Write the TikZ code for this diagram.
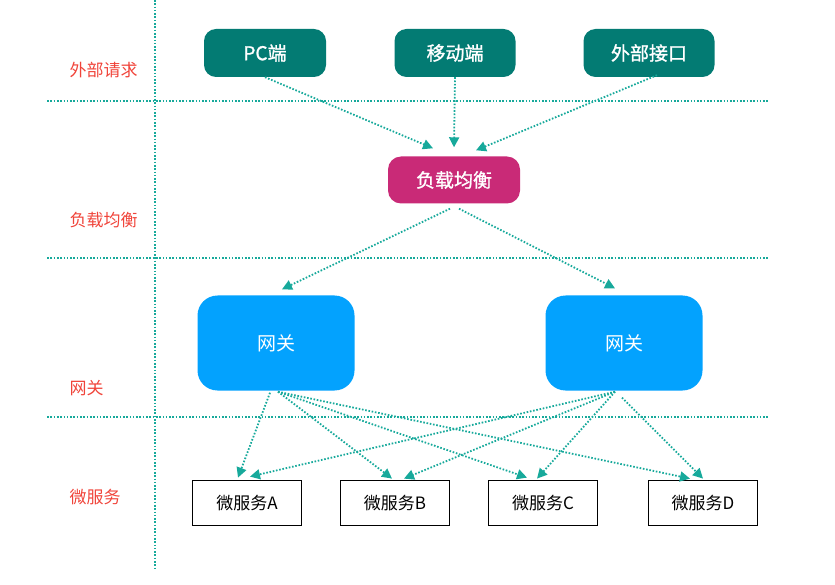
\documentclass[tikz,border=0pt]{standalone}
\usepackage{fontspec}
\newfontfamily\cjk{Noto Sans CJK SC}
\newfontfamily\cjkbox[FakeBold=1.2]{Noto Sans CJK SC}
\usetikzlibrary{arrows.meta}
\definecolor{clientcol}{HTML}{037B73}
\definecolor{lbcol}{HTML}{C92A77}
\definecolor{gwcol}{HTML}{03A2FE}
\definecolor{dotcol}{HTML}{17A99B}
\definecolor{layercol}{HTML}{F0443A}

\begin{document}
\begin{tikzpicture}[x=1pt,y=-1pt,
	client/.style={fill=clientcol, rounded corners=12pt, minimum height=48pt, text=white, font=\cjkbox\fontsize{19}{19}\selectfont},
	balancer/.style={fill=lbcol, rounded corners=13pt, minimum width=132pt, minimum height=47pt, text=white, font=\cjkbox\fontsize{19}{19}\selectfont},
	gateway/.style={fill=gwcol, rounded corners=20pt, minimum width=157pt, minimum height=95pt, text=white, font=\cjk\fontsize{19}{19}\selectfont},
	service/.style={draw=black, line width=1.8pt, fill=white, minimum width=109pt, minimum height=45pt, font=\cjk\fontsize{17}{17}\selectfont},
	layer/.style={anchor=west, text=layercol, font=\cjk\fontsize{17}{17}\selectfont},
	divider/.style={dotcol, line width=1.8pt, dash pattern=on 1.6pt off 1.7pt},
	flow/.style={dotcol, line width=1.8pt, dash pattern=on 1.6pt off 1.7pt, -{Triangle[length=10pt,width=10pt]}}]
		\useasboundingbox (0,0) rectangle (835,585);
		\draw [divider] (155,0) -- (155,568);
		\draw [divider] (47,101) -- (768,101);
		\draw [divider] (47,258) -- (768,258);
		\draw [divider] (47,417) -- (768,417);
		\node [layer] (lext) at (66,70) {外部请求};
		\node [layer] (llb) at (66,220) {负载均衡};
		\node [layer] (lgw) at (66,388) {网关};
		\node [layer] (lms) at (66,497) {微服务};
		\node [client, minimum width=122pt] (pc) at (265,53) {PC端};
		\node [client, minimum width=121pt] (mobile) at (455,53) {移动端};
		\node [client, minimum width=131pt] (ext) at (649,53) {外部接口};
		\node [balancer] (lb) at (454,180) {负载均衡};
		\node [gateway] (gwl) at (276,343) {网关};
		\node [gateway] (gwr) at (624,343) {网关};
		\node [service] (msa) at (247,503) {微服务A};
		\node [service] (msb) at (395,503) {微服务B};
		\node [service] (msc) at (543,503) {微服务C};
		\node [service] (msd) at (703,503) {微服务D};
		\draw [flow] (pc.south) -- ([xshift=-21pt,yshift=8pt]lb.north);
		\draw [flow] (mobile.south) -- ([yshift=9pt]lb.north);
		\draw [flow] ([xshift=8pt,yshift=2pt]ext.south) -- ([xshift=22pt,yshift=6pt]lb.north);
		\draw [flow] ([xshift=-4pt,yshift=-5pt]lb.south) -- ([xshift=6pt,yshift=6pt]gwl.north);
		\draw [flow] ([xshift=5pt,yshift=-5pt]lb.south) -- ([xshift=-9pt,yshift=7pt]gwr.north);
		\draw [flow] ([xshift=-6pt,yshift=-2pt]gwl.south) -- ([xshift=-9pt,yshift=2pt]msa.north);
		\draw [flow] ([xshift=2pt,yshift=-1pt]gwl.south) -- ([xshift=-3pt,yshift=1pt]msb.north);
		\draw [flow] ([xshift=2pt,yshift=-1pt]gwl.south) -- ([xshift=-16pt,yshift=2pt]msc.north);
		\draw [flow] ([xshift=2pt,yshift=-1pt]gwl.south) -- ([xshift=-13pt,yshift=1pt]msd.north);
		\draw [flow] ([xshift=-9pt,yshift=-1pt]gwr.south) -- ([xshift=3pt,yshift=3pt]msa.north);
		\draw [flow] ([xshift=-9pt,yshift=-1pt]gwr.south) -- ([xshift=9pt,yshift=1pt]msb.north);
		\draw [flow] ([xshift=-9pt,yshift=-1pt]gwr.south) -- ([xshift=-6pt,yshift=1pt]msc.north);
		\draw [flow] ([xshift=-2pt,yshift=-7pt]gwr.south) -- ([yshift=1pt]msd.north);
	\end{tikzpicture}
\end{document}
